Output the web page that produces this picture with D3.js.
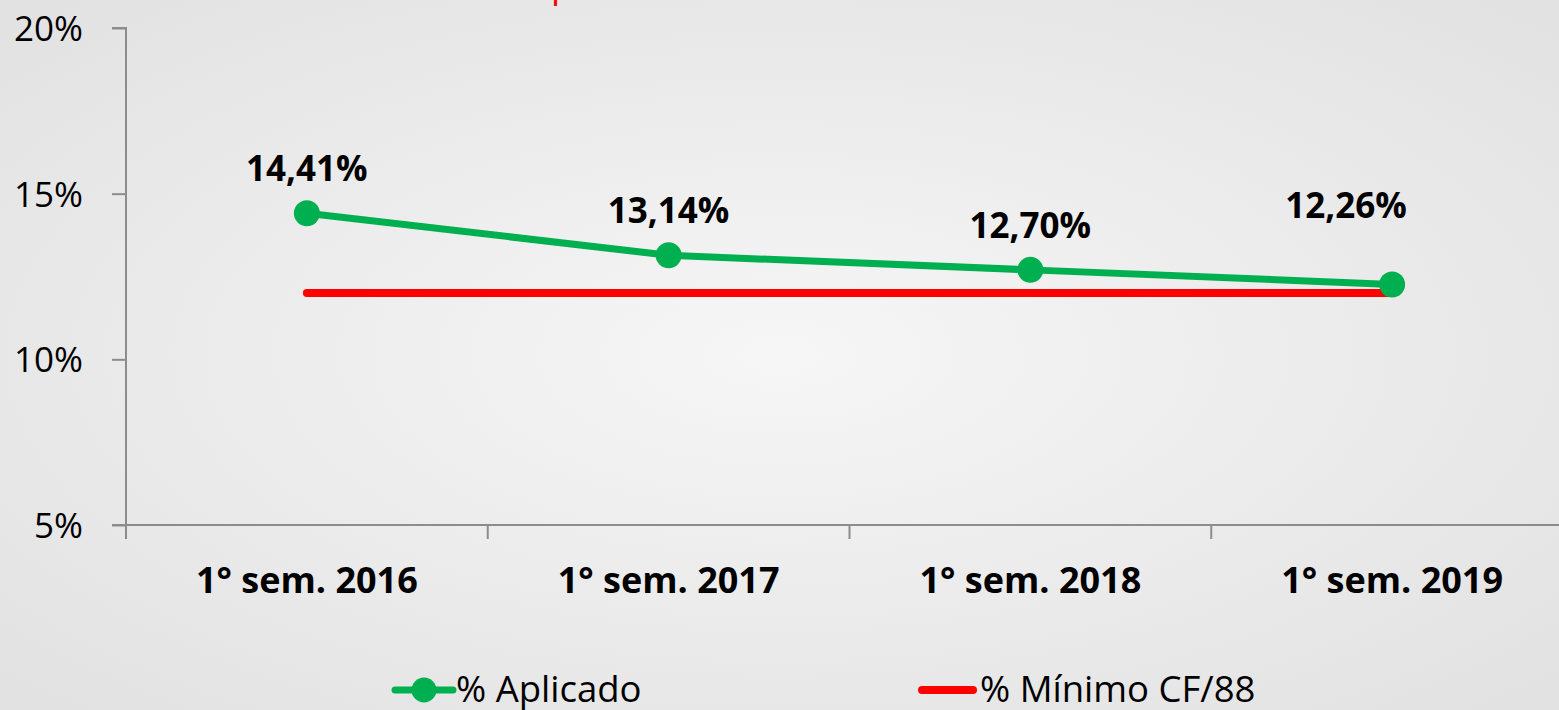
<!DOCTYPE html>
<html>
<head>
<meta charset="utf-8">
<script src="https://cdn.jsdelivr.net/npm/d3@7"></script>
<style>
  html, body { margin: 0; padding: 0; overflow: hidden; }
  svg { display: block; font-family: "Open Sans", "DejaVu Sans", sans-serif; }
</style>
</head>
<body>
<div id="chart"></div>
<script>
// Données
const categories = ["1° sem. 2016", "1° sem. 2017", "1° sem. 2018", "1° sem. 2019"];
const aplicado = [14.41, 13.14, 12.70, 12.26];
const minimo = [12, 12, 12, 12];
const aplicadoLabels = ["14,41%", "13,14%", "12,70%", "12,26%"];
const yTicks = [5, 10, 15, 20];
const seriesNames = ["% Aplicado", "% Mínimo CF/88"];

const width = 1559, height = 710;
const green = "#00b050", red = "#ff0000", axisGray = "#8c8c8c";
const font = '"Open Sans", "DejaVu Sans", sans-serif';

const svg = d3.select("#chart")
    .append("svg")
    .attr("width", width)
    .attr("height", height);

// Fond gris en dégradé
const defs = svg.append("defs");
const grad = defs.append("radialGradient")
    .attr("id", "bg")
    .attr("cx", "50%").attr("cy", "50%").attr("r", "75%");
grad.append("stop").attr("offset", "0%").attr("stop-color", "#f6f6f6");
grad.append("stop").attr("offset", "100%").attr("stop-color", "#e0e0e0");
svg.append("rect")
    .attr("width", width).attr("height", height)
    .attr("fill", "url(#bg)");

// Titre coupé en haut
svg.append("text")
    .attr("x", 551).attr("y", -3)
    .attr("fill", red)
    .style("font-size", "36px")
    .text("p");

// Échelles
const x = d3.scaleBand()
    .domain(categories)
    .range([126, 1573]);

const y = d3.scaleLinear()
    .domain([5, 20])
    .range([525, 28]);

// Axe Y
const yAxis = svg.append("g")
    .attr("transform", "translate(126,0)")
    .call(d3.axisLeft(y).tickValues(yTicks).tickSize(14).tickFormat(d => d + "%"));
yAxis.attr("font-family", null).attr("font-size", null);
yAxis.select(".domain").attr("stroke", axisGray).attr("stroke-width", 2)
    .attr("d", `M-14,${y(20)}H0V${y(5)}`);
yAxis.selectAll(".tick line").attr("stroke", axisGray).attr("stroke-width", 2);
yAxis.selectAll(".tick text")
    .attr("x", -43)
    .attr("dy", "0.36em")
    .attr("fill", "#000")
    .style("font-family", font)
    .style("font-size", "35px");

// Axe X
const xAxis = svg.append("g")
    .attr("transform", `translate(0,${y(5)})`);
xAxis.append("line")
    .attr("x1", 112).attr("x2", width)
    .attr("stroke", axisGray).attr("stroke-width", 2);
xAxis.selectAll(".xtick")
    .data(categories)
    .enter()
    .append("line")
    .attr("x1", d => x(d)).attr("x2", d => x(d))
    .attr("y1", 0).attr("y2", 14)
    .attr("stroke", axisGray).attr("stroke-width", 2);
xAxis.selectAll(".xlabel")
    .data(categories)
    .enter()
    .append("text")
    .attr("x", d => x(d) + x.bandwidth() / 2)
    .attr("y", 68)
    .attr("text-anchor", "middle")
    .style("font-size", "36px")
    .style("font-weight", "bold")
    .text(d => d);

const cx = (d, i) => x(categories[i]) + x.bandwidth() / 2;

// Ligne rouge (minimum)
svg.append("path")
    .datum(minimo)
    .attr("fill", "none")
    .attr("stroke", red)
    .attr("stroke-width", 8)
    .attr("stroke-linecap", "round")
    .attr("d", d3.line().x(cx).y(d => y(d)));

// Ligne verte (appliqué)
svg.append("path")
    .datum(aplicado)
    .attr("fill", "none")
    .attr("stroke", green)
    .attr("stroke-width", 7)
    .attr("stroke-linejoin", "round")
    .attr("d", d3.line().x(cx).y(d => y(d)));

svg.selectAll(".dot")
    .data(aplicado)
    .enter()
    .append("circle")
    .attr("cx", cx)
    .attr("cy", d => y(d))
    .attr("r", 13)
    .attr("fill", green);

// Étiquettes (la dernière est décalée comme dans l'original)
svg.selectAll(".lbl")
    .data(aplicado)
    .enter()
    .append("text")
    .attr("x", (d, i) => cx(d, i) - (i === 3 ? 46 : 0))
    .attr("y", (d, i) => y(d) - (i === 3 ? 66 : 32))
    .attr("text-anchor", "middle")
    .style("font-size", "35px")
    .style("font-weight", "bold")
    .text((d, i) => aplicadoLabels[i]);

// Légende
const leg1 = svg.append("g").attr("transform", "translate(395,690)");
leg1.append("line").attr("x1", 0).attr("x2", 58)
    .attr("stroke", green).attr("stroke-width", 7).attr("stroke-linecap", "round");
leg1.append("circle").attr("cx", 29).attr("r", 12.5).attr("fill", green);
leg1.append("text").attr("x", 61).attr("y", 12)
    .style("font-size", "36.5px").text(seriesNames[0]);

const leg2 = svg.append("g").attr("transform", "translate(918,690)");
leg2.append("line").attr("x1", 4).attr("x2", 55)
    .attr("stroke", red).attr("stroke-width", 8).attr("stroke-linecap", "round");
leg2.append("text").attr("x", 62).attr("y", 12)
    .style("font-size", "36.5px").text(seriesNames[1]);
</script>
</body>
</html>
